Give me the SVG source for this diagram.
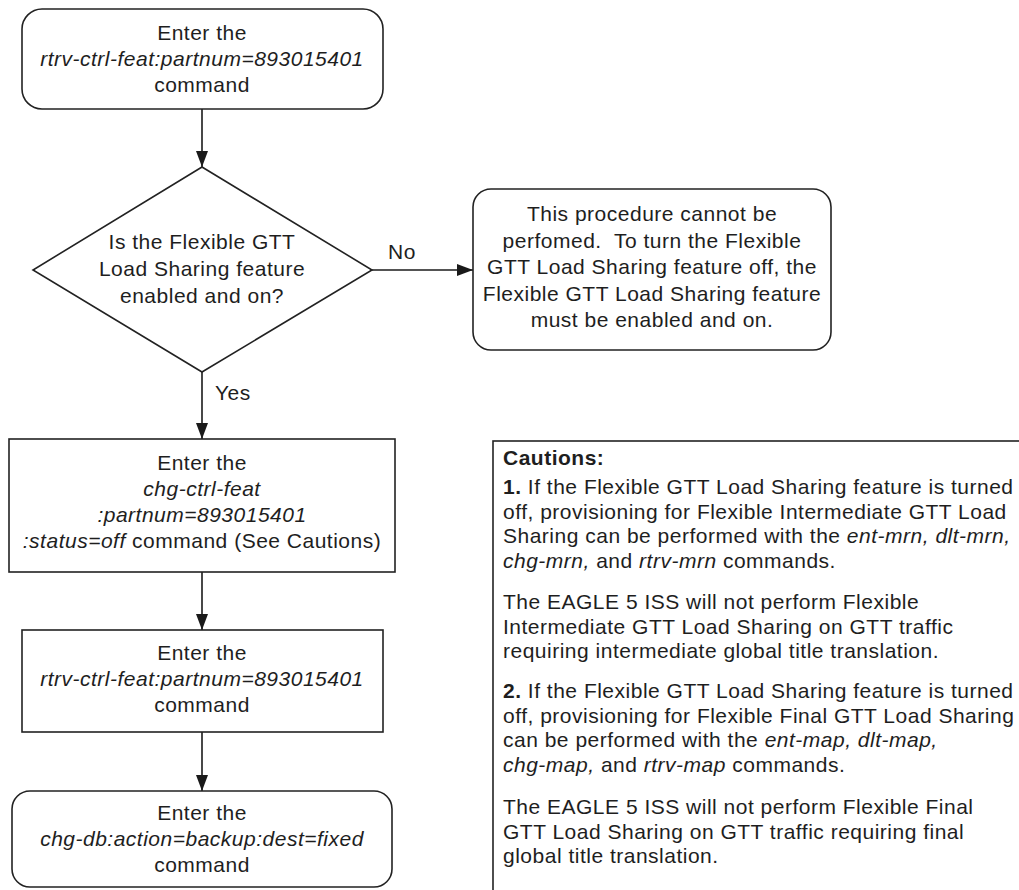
<svg xmlns="http://www.w3.org/2000/svg" width="1019" height="890" viewBox="0 0 1019 890">
<defs>
<marker id="arrow" markerUnits="userSpaceOnUse" markerWidth="16" markerHeight="16" viewBox="0 0 16 16" refX="16" refY="8" orient="auto">
<path d="M0,2 L16,8 L0,14 Z" fill="#1a1a1a"/>
</marker>
<style>
.shape{fill:#ffffff;stroke:#222222;stroke-width:1.6}
.conn{fill:none;stroke:#1a1a1a;stroke-width:1.6}
text{font-family:"Liberation Sans",Arial,sans-serif;font-size:21px;letter-spacing:0.5px;fill:#1e1e1e}
.c{text-anchor:middle}
.i{font-style:italic}
.b{font-weight:bold}
</style>
</defs>
<rect width="1019" height="890" fill="#ffffff"/>

<g id="connectors">
<line class="conn" x1="202" y1="109" x2="202" y2="167" marker-end="url(#arrow)"/>
<line class="conn" x1="372" y1="270" x2="473" y2="270" marker-end="url(#arrow)"/>
<line class="conn" x1="202" y1="372" x2="202" y2="439" marker-end="url(#arrow)"/>
<line class="conn" x1="202" y1="572" x2="202" y2="630" marker-end="url(#arrow)"/>
<line class="conn" x1="202" y1="732" x2="202" y2="791" marker-end="url(#arrow)"/>
<text x="402" y="259" class="c">No</text>
<text x="215" y="400">Yes</text>
</g>

<g id="start">
<rect class="shape" x="22" y="9" width="361" height="100" rx="20" ry="20"/>
<text class="c" x="202" y="40">Enter the</text>
<text class="c i" x="202" y="66">rtrv-ctrl-feat:partnum=893015401</text>
<text class="c" x="202" y="92">command</text>
</g>

<g id="decision">
<polygon class="shape" points="202,167 372,270 202,372 33,270"/>
<text class="c" x="202" y="249">Is the Flexible GTT</text>
<text class="c" x="202" y="276">Load Sharing feature</text>
<text class="c" x="202" y="303">enabled and on?</text>
</g>

<g id="cannot">
<rect class="shape" x="473" y="189" width="358" height="161" rx="18" ry="18"/>
<text class="c" x="652" y="221">This procedure cannot be</text>
<text class="c" x="652" y="247.5" xml:space="preserve">perfomed.  To turn the Flexible</text>
<text class="c" x="652" y="274">GTT Load Sharing feature off, the</text>
<text class="c" x="652" y="300.5">Flexible GTT Load Sharing feature</text>
<text class="c" x="652" y="327">must be enabled and on.</text>
</g>

<g id="chg-ctrl">
<rect class="shape" x="9" y="439" width="386" height="133"/>
<text class="c" x="202" y="470">Enter the</text>
<text class="c i" x="202" y="496">chg-ctrl-feat</text>
<text class="c i" x="202" y="522">:partnum=893015401</text>
<text class="c" x="202" y="548"><tspan class="i">:status=off</tspan> command (See Cautions)</text>
</g>

<g id="rtrv">
<rect class="shape" x="22" y="630" width="361" height="102"/>
<text class="c" x="202" y="660">Enter the</text>
<text class="c i" x="202" y="686">rtrv-ctrl-feat:partnum=893015401</text>
<text class="c" x="202" y="712">command</text>
</g>

<g id="backup">
<rect class="shape" x="12" y="791" width="380" height="96" rx="18" ry="18"/>
<text class="c" x="202" y="820">Enter the</text>
<text class="c i" x="202" y="846">chg-db:action=backup:dest=fixed</text>
<text class="c" x="202" y="872">command</text>
</g>

<g id="cautions">
<rect class="shape" x="493" y="441" width="600" height="520"/>
<text x="503" y="465" class="b">Cautions:</text>
<text x="503" y="494"><tspan class="b">1.</tspan> If the Flexible GTT Load Sharing feature is turned</text>
<text x="503" y="518.6">off, provisioning for Flexible Intermediate GTT Load</text>
<text x="503" y="543.2">Sharing can be performed with the <tspan class="i">ent-mrn, dlt-mrn,</tspan></text>
<text x="503" y="567.8"><tspan class="i">chg-mrn,</tspan> and <tspan class="i">rtrv-mrn</tspan> commands.</text>
<text x="503" y="609">The EAGLE 5 ISS will not perform Flexible</text>
<text x="503" y="633.6">Intermediate GTT Load Sharing on GTT traffic</text>
<text x="503" y="658.2">requiring intermediate global title translation.</text>
<text x="503" y="698"><tspan class="b">2.</tspan> If the Flexible GTT Load Sharing feature is turned</text>
<text x="503" y="722.6">off, provisioning for Flexible Final GTT Load Sharing</text>
<text x="503" y="747.2">can be performed with the <tspan class="i">ent-map, dlt-map,</tspan></text>
<text x="503" y="771.8"><tspan class="i">chg-map,</tspan> and <tspan class="i">rtrv-map</tspan> commands.</text>
<text x="503" y="814">The EAGLE 5 ISS will not perform Flexible Final</text>
<text x="503" y="838.6">GTT Load Sharing on GTT traffic requiring final</text>
<text x="503" y="863.2">global title translation.</text>
</g>
</svg>
